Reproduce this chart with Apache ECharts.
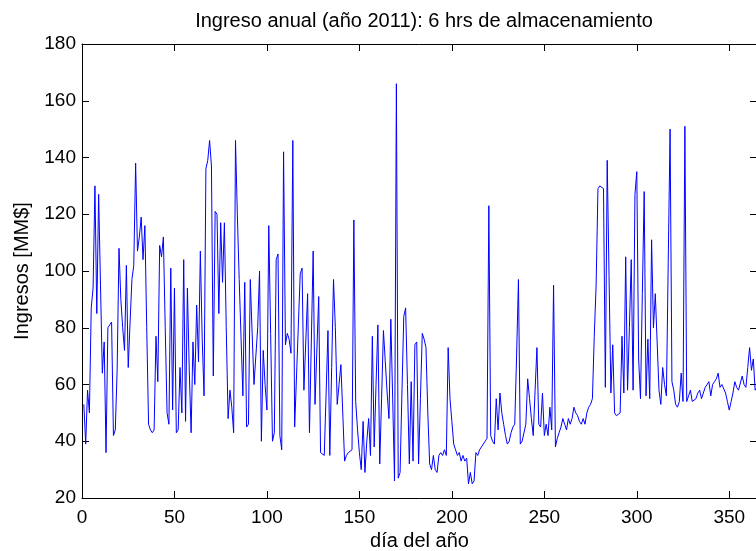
<!DOCTYPE html>
<html>
<head>
<meta charset="utf-8">
<script src="https://cdn.jsdelivr.net/npm/echarts@6/dist/echarts.min.js"></script>
<style>
  html, body { margin: 0; padding: 0; background: #fff; }
  #chart { width: 756px; height: 551px; }
</style>
</head>
<body>
<div id="chart"></div>
<script>
// Daily revenue, year 2011, 6 hours of storage (MM$)
const ingresos = [
  53, 39, 58, 50, 87, 94, 130, 85, 127, 95,
  64, 75, 36, 80, 81, 82, 42, 44, 65, 108,
  90, 80, 72, 102, 66, 82, 97, 102, 138, 107,
  112, 119, 104, 116, 80, 46, 44, 43, 44, 77,
  61, 109, 105, 112, 80, 50, 46,
  101, 51, 94, 43, 44, 66, 50, 104, 47, 94, 65, 43, 75, 60, 88, 68,
  107, 76, 56, 136, 139, 146, 137, 63, 121, 120, 85, 117, 96, 117, 80, 48,
  58, 52, 43, 146, 120, 97, 97, 56, 96, 45, 46, 97, 78, 60,
  60, 80, 100, 40, 72, 60, 51, 116, 78, 40, 43, 104, 106, 42, 37,
  142, 74, 78, 76, 71, 146, 45, 63, 81, 99, 101, 58, 75, 92, 43, 75,
  107, 53, 53, 91, 36, 36, 35, 57, 79, 35, 66, 97, 80, 53, 60, 67,
  50, 33, 35, 36, 36, 37, 118, 54, 44, 36, 30, 47, 29, 40, 48, 35,
  77, 38, 60, 81, 32, 55, 79, 68, 57, 48, 83, 55, 26, 166, 27, 29,
  57, 84, 87, 60, 32, 61, 33, 74, 75, 32, 55, 78, 76, 73,
  50, 32, 30, 35, 30, 29, 35, 36, 35, 37, 35, 73, 55, 47, 39, 37,
  35, 36, 33, 35, 33, 34, 25, 29, 25, 26, 36, 35, 37, 38, 39, 40,
  41, 123, 42, 40, 39, 55, 44, 57, 50, 46, 42, 39, 40,
  43, 45, 46, 70, 97, 39, 40, 40, 46, 62, 55, 48, 42, 58, 73, 46,
  45, 57, 42, 46, 42, 52, 44, 95, 38, 41, 43, 45, 48, 46, 44, 48,
  46, 48, 52, 50, 49, 47, 46, 48, 46, 50, 52, 53, 55, 77, 95,
  129, 130, 130, 129, 59, 139, 98, 57, 74, 50, 49, 49, 50, 77, 57, 105,
  58, 80, 104, 58, 127, 135, 69, 55, 92, 128, 56, 76, 55, 111, 80, 92,
  75, 58, 53, 66, 60, 56, 103, 150, 61, 58, 53, 52, 54, 64, 54, 151,
  54, 56, 58, 54, 54, 55, 57, 58, 55, 57, 59, 60, 61, 56, 60, 61,
  62, 64, 59, 60, 60, 57, 54, 51, 54, 57, 61, 59, 58, 58, 63, 60,
  59, 66, 73, 65, 69, 58, 59
];

// Day of the year for each value (1..N)
const dias = ingresos.map((_, i) => i + 1);

const xTicks = [0, 50, 100, 150, 200, 250, 300, 350];
const yTicks = [20, 40, 60, 80, 100, 120, 140, 160, 180];

const titulo = 'Ingreso anual (año 2011): 6 hrs de almacenamiento';
const etiquetaX = 'día del año';
const etiquetaY = 'Ingresos [MM$]';

const FONT = 'Liberation Sans, Arial, Helvetica, sans-serif';
const FS = 19;
const FS_TXT = 20;
const INK = '#000';

const box = { show: true, onZero: false, lineStyle: { color: INK, width: 1 } };
const tick = { show: true, inside: true, length: 7, lineStyle: { color: INK, width: 1 } };

const xRange = { type: 'value', min: 0, max: 365, interval: 50 };
const yRange = { type: 'value', min: yTicks[0], max: yTicks[yTicks.length - 1], interval: 20 };

const chart = echarts.init(document.getElementById('chart'), null, { renderer: 'canvas' });
chart.setOption({
  backgroundColor: '#fff',
  animation: false,
  title: {
    text: titulo,
    left: 419, top: 6, textAlign: 'center',
    textStyle: { fontFamily: FONT, fontSize: FS_TXT, fontWeight: 'normal', color: INK }
  },
  grid: { left: 82, right: -1, top: 44, bottom: 53, containLabel: false, outerBoundsMode: 'none' },
  xAxis: [
    Object.assign({}, xRange, {
      position: 'bottom',
      name: etiquetaX, nameLocation: 'middle', nameGap: 33,
      nameTextStyle: { fontFamily: FONT, fontSize: FS_TXT, color: INK },
      axisLine: box, axisTick: tick, splitLine: { show: false },
      axisLabel: {
        fontFamily: FONT, fontSize: FS, color: INK, margin: 10,
        formatter: v => (xTicks.indexOf(v) >= 0 ? String(v) : '')
      }
    }),
    Object.assign({}, xRange, {
      position: 'top',
      axisLine: box, axisTick: tick, splitLine: { show: false },
      axisLabel: { show: false }
    })
  ],
  yAxis: [
    Object.assign({}, yRange, {
      position: 'left',
      name: etiquetaY, nameLocation: 'middle', nameGap: 50,
      nameTextStyle: { fontFamily: FONT, fontSize: FS_TXT, color: INK },
      axisLine: box, axisTick: tick, splitLine: { show: false },
      axisLabel: { fontFamily: FONT, fontSize: FS, color: INK, margin: 6 }
    }),
    Object.assign({}, yRange, {
      position: 'right',
      axisLine: box, axisTick: tick, splitLine: { show: false },
      axisLabel: { show: false }
    })
  ],
  series: [{
    type: 'line',
    data: dias.map((d, i) => [d, ingresos[i]]),
    showSymbol: false,
    symbol: 'none',
    lineStyle: { color: '#0000ff', width: 1 },
    clip: true
  }]
});
</script>
</body>
</html>
